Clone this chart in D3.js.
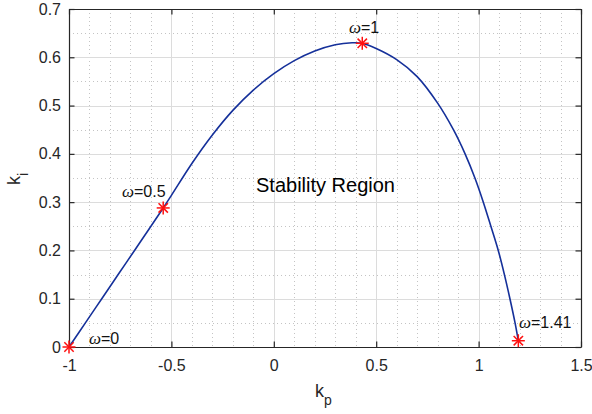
<!DOCTYPE html>
<html><head><meta charset="utf-8">
<script src="https://cdn.jsdelivr.net/npm/d3@7"></script>
<style>
html,body{margin:0;padding:0;background:#fff;}
svg{display:block;font-family:"Liberation Sans",Arial,Helvetica,sans-serif;}
</style></head>
<body><svg id="c" width="592" height="414"></svg>
<script>
// Stability boundary curve (kp, ki)
const boundaryKp = [-1, -0.92, -0.84, -0.76, -0.68, -0.60, -0.54, -0.50, -0.40, -0.30, -0.20, -0.10, 0.00, 0.10, 0.20, 0.30, 0.382, 0.432, 0.50, 0.60, 0.70, 0.80, 0.877, 0.934, 0.982, 1.023, 1.06, 1.096, 1.126, 1.153, 1.178, 1.194];
const boundaryKi = [0, 0.05, 0.1, 0.15, 0.2, 0.25, 0.288, 0.314, 0.380, 0.439, 0.490, 0.532, 0.566, 0.593, 0.613, 0.626, 0.630, 0.629, 0.618, 0.595, 0.560, 0.505, 0.45, 0.4, 0.35, 0.3, 0.25, 0.2, 0.15, 0.1, 0.05, 0.013];
// Marked frequencies
const markOmega = ["0", "0.5", "1", "1.41"];
const markKp = [-1, -0.54, 0.432, 1.194];
const markKi = [0, 0.288, 0.629, 0.013];
// Ticks
const xTicks = [-1, -0.5, 0, 0.5, 1, 1.5];
const xTickLabels = ["-1", "-0.5", "0", "0.5", "1", "1.5"];
const yTicks = [0, 0.1, 0.2, 0.3, 0.4, 0.5, 0.6, 0.7];
const yTickLabels = ["0", "0.1", "0.2", "0.3", "0.4", "0.5", "0.6", "0.7"];
const regionLabel = "Stability Region";

const svg = d3.select("#c");
const L = 69, R = 581, T = 9, B = 347;
const x = d3.scaleLinear().domain([-1, 1.5]).range([L, R]);
const y = d3.scaleLinear().domain([0, 0.7]).range([B, T]);

// minor grid
const xMinor = d3.range(-10, 16).map(d => d / 10).filter(d => Math.abs(d * 2 - Math.round(d * 2)) > 1e-6);
const yMinor = d3.range(0, 14).map(d => d * 0.05 + 0.05).filter(d => d < 0.7 && Math.abs(d * 10 - Math.round(d * 10)) > 1e-6);
const g = svg.append("g");
g.selectAll(".xm").data(xMinor).join("line")
  .attr("x1", d => Math.round(x(d)) + 0.5).attr("x2", d => Math.round(x(d)) + 0.5)
  .attr("y1", T).attr("y2", B)
  .attr("stroke", "#c4c4c4").attr("stroke-dasharray", "1,3");
g.selectAll(".ym").data(yMinor).join("line")
  .attr("y1", d => Math.round(y(d)) + 0.5).attr("y2", d => Math.round(y(d)) + 0.5)
  .attr("x1", L).attr("x2", R)
  .attr("stroke", "#c4c4c4").attr("stroke-dasharray", "1,3");
// major grid
g.selectAll(".xg").data(xTicks.slice(1, -1)).join("line")
  .attr("x1", d => Math.round(x(d)) + 0.5).attr("x2", d => Math.round(x(d)) + 0.5)
  .attr("y1", T).attr("y2", B).attr("stroke", "#dcdcdc");
g.selectAll(".yg").data(yTicks.slice(1, -1)).join("line")
  .attr("y1", d => Math.round(y(d)) + 0.5).attr("y2", d => Math.round(y(d)) + 0.5)
  .attr("x1", L).attr("x2", R).attr("stroke", "#dcdcdc");

// axes
const ax = "#262626";
const xAxis = d3.axisBottom(x).tickValues(xTicks).tickFormat((d, i) => xTickLabels[i]).tickSizeInner(-5.5).tickSizeOuter(0).tickPadding(13);
const yAxis = d3.axisLeft(y).tickValues(yTicks).tickFormat((d, i) => yTickLabels[i]).tickSizeInner(-5.5).tickSizeOuter(0).tickPadding(8);
const gx = svg.append("g").attr("transform", `translate(0,${B})`).call(xAxis);
const gy = svg.append("g").attr("transform", `translate(${L},0)`).call(yAxis);
const gxt = svg.append("g").attr("transform", `translate(0,${T})`).call(d3.axisTop(x).tickValues(xTicks).tickFormat("").tickSizeInner(-5.5).tickSizeOuter(0));
const gyr = svg.append("g").attr("transform", `translate(${R},0)`).call(d3.axisRight(y).tickValues(yTicks).tickFormat("").tickSizeInner(-5.5).tickSizeOuter(0));
[gx, gy, gxt, gyr].forEach(a => {
  a.select(".domain").attr("stroke", ax).attr("stroke-width", 1.2);
  a.selectAll(".tick line").attr("stroke", ax).attr("stroke-width", 1.2);
  a.selectAll("text").attr("fill", "#262626").attr("font-size", 16).attr("font-family", "Liberation Sans, Arial, sans-serif");
});
gx.selectAll("text").attr("dy", "0.71em");

// curve
const pts = boundaryKp.map((k, i) => [k, boundaryKi[i]]);
svg.append("path").datum(pts)
  .attr("d", d3.line().x(d => x(d[0])).y(d => y(d[1])).curve(d3.curveCatmullRom.alpha(0.5)))
  .attr("fill", "none").attr("stroke", "#15309a").attr("stroke-width", 1.6);

// markers (asterisk)
const r = 6.5;
const mk = svg.append("g").selectAll("g").data(markKp.map((k, i) => [k, markKi[i]])).join("g")
  .attr("transform", d => `translate(${x(d[0])},${y(d[1])})`);
[[-r, 0, r, 0], [0, -r, 0, r], [-r * 0.72, -r * 0.72, r * 0.72, r * 0.72], [-r * 0.72, r * 0.72, r * 0.72, -r * 0.72]].forEach(s => {
  mk.append("line").attr("x1", s[0]).attr("y1", s[1]).attr("x2", s[2]).attr("y2", s[3])
    .attr("stroke", "#ff1010").attr("stroke-width", 1.5);
});

// omega labels
const labelPos = [[89, 344], [122, 197], [349, 33], [519, 328]];
markOmega.forEach((w, i) => {
  const t = svg.append("text").attr("x", labelPos[i][0]).attr("y", labelPos[i][1])
    .attr("font-size", 16).attr("fill", "#111");
  t.append("tspan").attr("font-family", "Liberation Serif, Times New Roman, serif").attr("font-style", "italic").attr("font-size", 17).text("ω");
  t.append("tspan").text("=" + w);
});

// region label
svg.append("text").attr("x", 256).attr("y", 192).attr("font-size", 20).attr("fill", "#000").text(regionLabel);

// axis labels
const xl = svg.append("text").attr("x", 315).attr("y", 397).attr("font-size", 18).attr("fill", "#262626");
xl.append("tspan").text("k");
xl.append("tspan").attr("font-size", 14).attr("dy", 8).text("p");
const yl = svg.append("text").attr("transform", "translate(20,185) rotate(-90)").attr("font-size", 18).attr("fill", "#262626");
yl.append("tspan").text("k");
yl.append("tspan").attr("font-size", 14).attr("dy", 8).text("i");
</script>
</body></html>
